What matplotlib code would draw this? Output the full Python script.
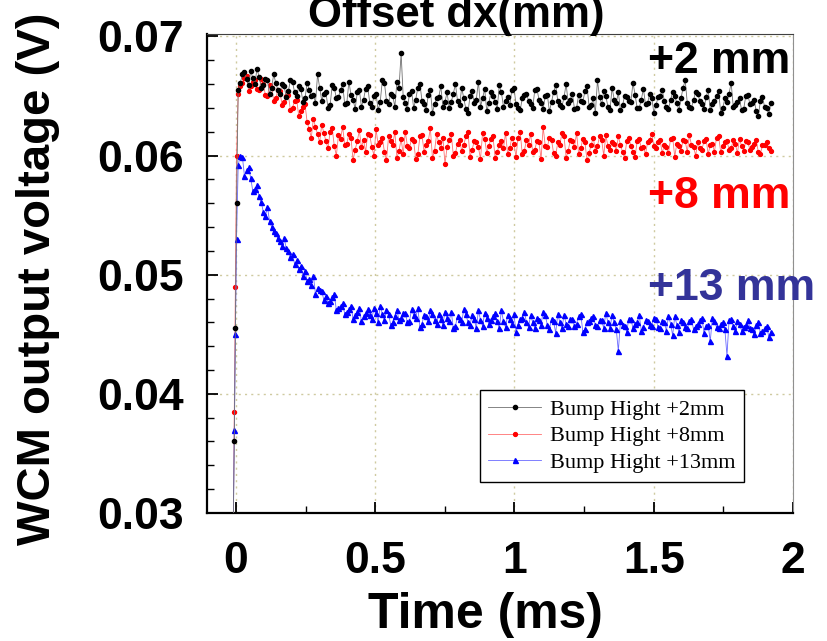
import matplotlib
matplotlib.use("Agg")
import matplotlib.pyplot as plt
import numpy as np
from matplotlib.ticker import MultipleLocator

# sampling: a short rising edge, then a regular grid (two interleaved halves)
rise_time = [-0.010, -0.006, -0.002, 0.002]
main_t0, main_step, main_n = 0.008, 0.015, 128

# values in units of 0.1 mV
black_rise = [280, 360, 455, 560]
black_a = [
    655, 668, 664, 671, 660, 666, 659, 663, 657, 661,
    652, 658, 654, 662, 650, 656, 648, 655, 651, 668,
    646, 653, 642, 657, 649, 660, 644, 651, 639, 655,
    647, 658, 641, 652, 645, 661, 643, 650, 662, 686,
    644, 652, 640, 657, 646, 638, 655, 643, 649, 641,
    653, 645, 660, 642, 648, 636, 654, 647, 641, 656,
    644, 650, 639, 653, 646, 642, 657, 640, 648, 652,
    643, 655, 647, 639, 651, 645, 659, 642, 649, 644,
    652, 640, 646, 654, 641, 648, 663, 643, 650, 638,
    647, 653, 642, 649, 645, 651, 640, 656, 644, 648,
    642, 650, 646, 639, 653, 644, 648, 663, 641, 647,
    652, 643, 649, 638, 646, 654, 640, 645, 661, 642,
    648, 639, 651, 644, 637, 646, 641, 635,
]
black_b = [
    661, 670, 659, 665, 673, 657, 664, 652, 668, 655,
    660, 649, 663, 653, 658, 645, 661, 650, 644, 657,
    652, 640, 659, 648, 655, 643, 662, 647, 653, 641,
    656, 644, 650, 638, 663, 646, 652, 641, 657, 649,
    639, 654, 647, 660, 643, 651, 636, 648, 658, 645,
    640, 652, 646, 657, 639, 650, 644, 662, 648, 637,
    653, 645, 659, 641, 649, 655, 643, 638, 651, 646,
    640, 656, 644, 650, 637, 653, 646, 641, 660, 647,
    639, 651, 645, 658, 642, 636, 649, 654, 641, 657,
    644, 638, 650, 646, 661, 640, 647, 643, 652, 636,
    649, 655, 641, 647, 650, 638, 657, 644, 640, 653,
    646, 639, 655, 643, 650, 636, 648, 652, 641, 645,
    638, 650, 643, 647, 633, 649, 640, 644,
]
red_rise = [280, 385, 490, 600]
red_a = [
    652, 661, 667, 658, 663, 655, 660, 650, 657, 648,
    654, 645, 651, 640, 647, 637, 643, 622, 631, 618,
    626, 612, 620, 608, 617, 624, 610, 615, 605, 621,
    613, 618, 607, 622, 611, 603, 616, 609, 598, 614,
    620, 606, 612, 601, 617, 609, 623, 604, 611, 615,
    607, 618, 602, 613, 609, 620, 605, 611, 597, 614,
    608, 616, 603, 612, 619, 606, 610, 615, 601, 613,
    618, 605, 611, 624, 607, 613, 600, 609, 616, 604,
    612, 619, 606, 611, 602, 615, 608, 613, 617, 605,
    610, 616, 603, 612, 608, 599, 614, 607, 611, 618,
    606, 613, 609, 602, 615, 610, 604, 612, 617, 607,
    611, 605, 614, 609, 603, 616, 608, 612, 606, 610,
    614, 604, 611, 607, 613, 601, 609, 606,
]
red_b = [
    658, 665, 654, 662, 656, 664, 651, 659, 646, 655,
    642, 650, 638, 646, 633, 641, 628, 615, 624, 611,
    619, 606, 623, 600, 614, 609, 618, 596, 612, 607,
    603, 617, 600, 609, 615, 596, 612, 620, 604, 601,
    608, 614, 597, 616, 603, 612, 598, 618, 606, 593,
    613, 600, 610, 604, 616, 599, 612, 607, 619, 602,
    614, 598, 609, 606, 601, 615, 599, 620, 604, 609,
    603, 612, 597, 608, 615, 602, 611, 619, 598, 613,
    607, 601, 614, 596, 609, 604, 616, 600, 608, 611,
    604, 609, 598, 615, 603, 612, 606, 601, 613, 608,
    611, 602, 607, 614, 599, 608, 613, 603, 609, 600,
    606, 612, 601, 610, 615, 603, 611, 605, 613, 602,
    608, 612, 605, 610, 603, 609, 611, 604,
]
blue_rise = [280, 370, 450, 530]
blue_a = [
    592, 599, 588, 581, 572, 566, 553, 557, 540, 535,
    528, 531, 520, 517, 512, 507, 503, 496, 499, 489,
    486, 482, 478, 484, 472, 476, 469, 474, 466, 472,
    465, 471, 463, 468, 474, 462, 467, 460, 470, 464,
    468, 461, 466, 472, 459, 465, 470, 462, 467, 458,
    464, 469, 457, 463, 471, 460, 466, 455, 462, 468,
    459, 465, 461, 470, 456, 463, 467, 458, 464, 460,
    466, 455, 462, 469, 458, 463, 451, 460, 466, 457,
    463, 459, 467, 454, 461, 465, 457, 462, 468, 455,
    460, 436, 458, 452, 463, 459, 466, 456, 461, 457,
    463, 455, 460, 465, 449, 458, 462, 456, 461, 454,
    459, 464, 457, 444, 461, 455, 460, 432, 463, 453,
    459, 456, 462, 454, 458, 451, 455, 448,
]
blue_b = [
    600, 583, 590, 570, 575, 561, 549, 545, 537, 531,
    524, 522, 515, 509, 505, 499, 495, 491, 484, 487,
    479, 476, 481, 470, 474, 467, 471, 463, 469, 461,
    468, 466, 472, 460, 467, 470, 458, 465, 462, 468,
    460, 471, 464, 456, 466, 461, 467, 459, 463, 469,
    461, 455, 465, 460, 467, 458, 463, 470, 457, 464,
    462, 468, 455, 461, 466, 459, 452, 463, 469, 456,
    460, 464, 458, 466, 454, 461, 467, 455, 459, 463,
    457, 465, 452, 460, 464, 458, 462, 455, 460, 466,
    454, 461, 457, 463, 455, 460, 453, 462, 458, 464,
    456, 461, 453, 459, 465, 452, 460, 455, 463, 457,
    462, 451, 458, 464, 456, 459, 454, 462, 457, 461,
    453, 458, 455, 450, 460, 453, 457, 452,
]

labels = ["Bump Hight +2mm", "Bump Hight +8mm", "Bump Hight +13mm"]
x_ticks = [0, 0.5, 1, 1.5, 2]
x_tick_labels = ["0", "0.5", "1", "1.5", "2"]
y_ticks = [0.03, 0.04, 0.05, 0.06, 0.07]
y_tick_labels = ["0.03", "0.04", "0.05", "0.06", "0.07"]


def build(rise, a, b):
    idx = np.arange(main_n)
    t = np.concatenate([rise_time, main_t0 + main_step * idx,
                        main_t0 + main_step * (idx + 0.5)])
    v = np.array(rise + a + b) / 1e4
    order = np.argsort(t)
    return t[order], v[order]


t_black, black = build(black_rise, black_a, black_b)
t_red, red = build(red_rise, red_a, red_b)
t_blue, blue = build(blue_rise, blue_a, blue_b)

sans = ["Liberation Sans", "DejaVu Sans"]
serif = ["Liberation Serif", "DejaVu Serif"]
tick_size = 32

fig = plt.figure(figsize=(8.28, 6.41), dpi=100)
ax = fig.add_axes([0.25, 0.1997, 0.7077, 0.7473])

ax.plot(t_black, black, color="#707070", lw=0.6, marker="o", ms=3.0,
        mfc="black", mec="black", label=labels[0], zorder=3)
ax.plot(t_red, red, color="#ff7070", lw=0.6, marker="o", ms=2.8,
        mfc="red", mec="red", label=labels[1], zorder=2)
ax.plot(t_blue, blue, color="#6a6aff", lw=0.6, marker="^", ms=3.6,
        mfc="blue", mec="blue", label=labels[2], zorder=2)

ax.set_xlim(-0.104, 2.0)
ax.set_ylim(0.03, 0.0702)
ax.set_xticks(x_ticks)
ax.set_xticklabels(x_tick_labels)
ax.set_yticks(y_ticks)
ax.set_yticklabels(y_tick_labels)
ax.xaxis.set_minor_locator(MultipleLocator(0.25))
ax.yaxis.set_minor_locator(MultipleLocator(0.002))
ax.tick_params(which="major", direction="in", length=8, width=1.3)
ax.tick_params(which="minor", direction="in", length=5, width=1.0)
ax.tick_params(axis="x", pad=20)
ax.tick_params(axis="y", pad=17)
for lab in ax.get_xticklabels() + ax.get_yticklabels():
    lab.set_family(sans)
    lab.set_fontweight("bold")
    lab.set_fontsize(tick_size)

ax.grid(True, which="major", ls=(0, (1.5, 3)), lw=1.0, color="#cfcaa0")
ax.set_axisbelow(True)
for side in ["left", "bottom"]:
    ax.spines[side].set_linewidth(1.6)
ax.spines["top"].set_color("#404040")
ax.spines["right"].set_color("#909090")

ax.set_xlabel("Time (ms)", family=sans, fontweight="bold", fontsize=36)
ax.set_ylabel("WCM output voltage (V)", family=sans, fontweight="bold",
              fontsize=34)
ax.yaxis.set_label_coords(-0.251, 0.49)
ax.xaxis.set_label_coords(0.475, -0.165)

fig.text(0.551, 0.958, "Offset dx(mm)", family=sans, fontweight="bold",
         fontsize=31.5, ha="center", va="baseline")

fig.text(648 / 828, 1 - 73 / 641, "+2 mm", family=sans, fontweight="bold",
         fontsize=32, color="black", va="baseline")
fig.text(648 / 828, 1 - 208 / 641, "+8 mm", family=sans, fontweight="bold",
         fontsize=32, color="#ff0000", va="baseline")
fig.text(648 / 828, 1 - 300 / 641, "+13 mm", family=sans, fontweight="bold",
         fontsize=32, color="#333399", va="baseline")

leg = ax.legend(loc="lower right", bbox_to_anchor=(0.9164, 0.0646),
                prop={"family": serif, "size": 16}, frameon=True,
                fancybox=False, edgecolor="black", framealpha=1,
                handlelength=2.35, handletextpad=0.4, borderpad=0.4,
                labelspacing=0.28, borderaxespad=0)
leg.get_frame().set_linewidth(1.0)

fig.savefig("out.png", dpi=100)
